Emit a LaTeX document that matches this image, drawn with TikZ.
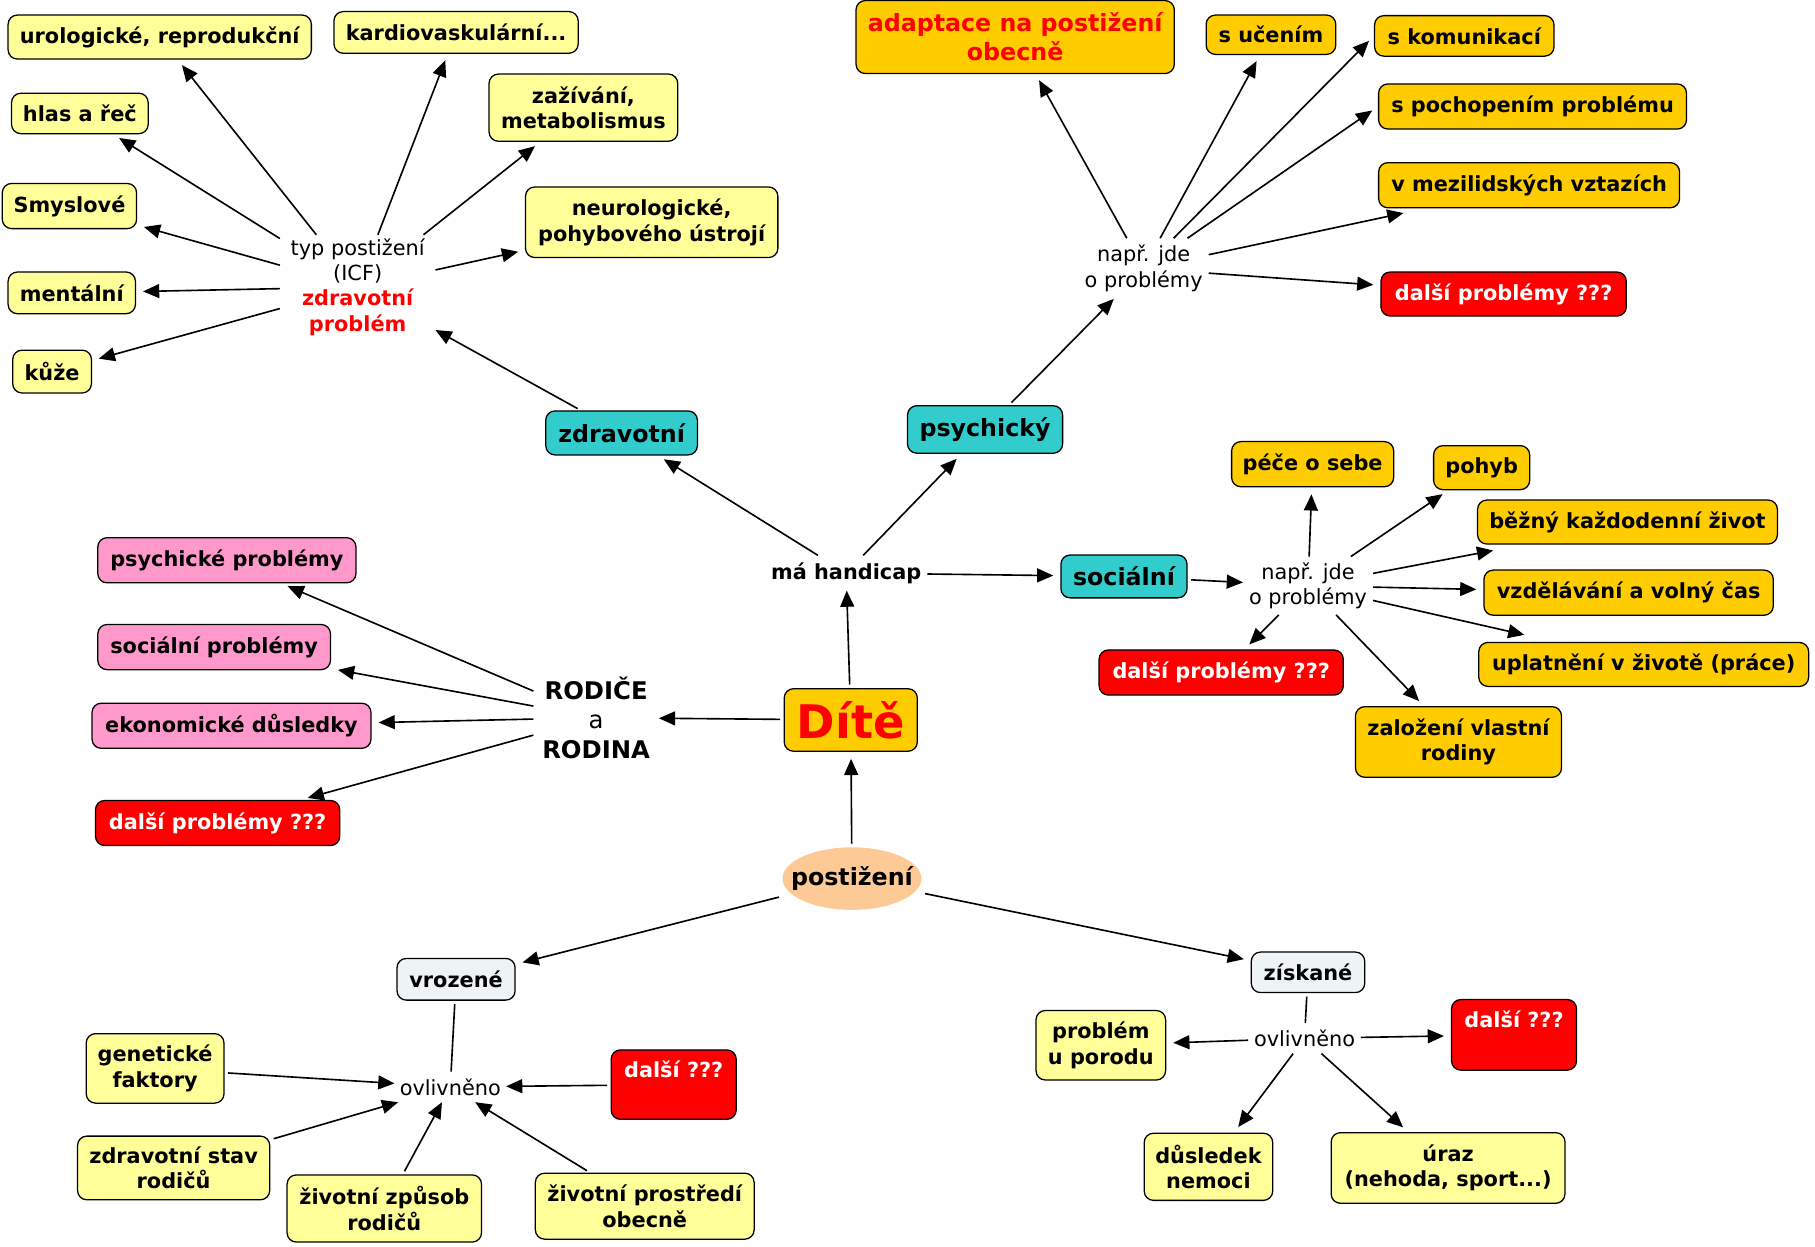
\documentclass[tikz,border=0pt]{standalone}
\usepackage{fontspec}
\setmainfont{DejaVu Sans}
\usetikzlibrary{arrows.meta,shapes.geometric}
\definecolor{cly}{RGB}{255,255,153}
\definecolor{cor}{RGB}{255,204,0}
\definecolor{cteal}{RGB}{51,204,204}
\definecolor{cpink}{RGB}{255,153,204}
\definecolor{cred}{RGB}{255,0,0}
\definecolor{cgr}{RGB}{238,244,246}
\definecolor{cpeach}{RGB}{253,202,150}
\begin{document}
\begin{tikzpicture}[x=1pt,y=-1pt,
  box/.style={draw=black, line width=1.1pt, rounded corners=8pt, inner sep=0pt, align=center,
    font=\fontsize{18}{22}\selectfont\bfseries},
  ly/.style={box, fill=cly},
  og/.style={box, fill=cor},
  tl/.style={box, fill=cteal, font=\fontsize{20.5}{24}\selectfont\bfseries},
  pk/.style={box, fill=cpink},
  rd/.style={box, fill=cred, text=white},
  gr/.style={box, fill=cgr},
  link/.style={inner sep=0pt, align=center, font=\fontsize{18}{22}\selectfont},
  tip/.style={-{Triangle[length=14pt,width=12pt]}, line width=1.4pt},
  cl/.style={tip, shorten <=3pt, shorten >=0pt},
  lc/.style={tip, shorten <=0pt, shorten >=6pt},
  lc0/.style={tip, shorten <=0pt, shorten >=0pt},
  cc/.style={tip, shorten <=3pt, shorten >=6pt},
  pl/.style={line width=1.4pt, shorten <=3pt}
]
\useasboundingbox (0,0) rectangle (1568,1077);

% ---- zdravotni branch
\node[ly, minimum width=262pt, minimum height=38pt] (urol) at (138,32) {urologické, reprodukční};
\node[ly, minimum width=211pt, minimum height=36pt] (kard) at (394,28) {kardiovaskulární...};
\node[ly, minimum width=118pt, minimum height=35pt] (hlas) at (69,98) {hlas a řeč};
\node[ly, minimum width=163pt, minimum height=58pt] (zaz) at (504,93) {zažívání,\\metabolismus};
\node[ly, minimum width=116pt, minimum height=39pt] (smy) at (60,178) {Smyslové};
\node[ly, minimum width=218pt, minimum height=61pt] (neu) at (563,192) {neurologické,\\pohybového ústrojí};
\node[ly, minimum width=110pt, minimum height=36pt] (men) at (62,253) {mentální};
\node[ly, minimum width=68pt, minimum height=37pt] (kuz) at (45,321) {kůže};
\node[link, minimum width=134pt, minimum height=90pt] (typ) at (309,248)
  {typ postižení\\(ICF)\\\textcolor{cred}{\bfseries zdravotní}\\\textcolor{cred}{\bfseries problém}};

\node[tl, minimum width=131pt, minimum height=38pt] (zdr) at (537,374) {zdravotní};
\node[tl, minimum width=134pt, minimum height=41pt] (psy) at (851,371) {psychický};
\node[tl, minimum width=109pt, minimum height=37pt] (soc) at (971,498) {sociální};

\node[link, font=\fontsize{18}{22}\selectfont\bfseries, minimum width=140pt, minimum height=30pt] (mah) at (731,495) {má handicap};
\node[og, minimum width=115pt, minimum height=54pt, text=cred, font=\fontsize{40}{44}\selectfont\bfseries] (dite) at (735,622) {Dítě};
\node[link, font=\fontsize{21}{25.5}\selectfont\bfseries, minimum width=108pt, minimum height=76pt] (rod) at (515,620) {RODIČE\\{\mdseries a}\\RODINA};

% ---- rodina
\node[pk, minimum width=223pt, minimum height=39pt] (pp) at (196,484) {psychické problémy};
\node[pk, minimum width=201pt, minimum height=39pt] (sp) at (185,559) {sociální problémy};
\node[pk, minimum width=241pt, minimum height=39pt] (ed) at (200,627) {ekonomické důsledky};
\node[rd, minimum width=211pt, minimum height=39pt] (dp1) at (188,711) {další problémy ???};

% ---- postizeni
\fill[cpeach] (736,759) ellipse [x radius=60pt, y radius=27pt];
\node[inner sep=0pt, minimum width=120pt, minimum height=54pt,
  font=\fontsize{20.5}{24}\selectfont\bfseries] (post) at (736,759) {postižení};
\node[gr, minimum width=102pt, minimum height=36pt] (vro) at (394,846) {vrozené};
\node[gr, minimum width=98pt, minimum height=35pt] (zis) at (1130,840) {získané};

\node[link, minimum width=96pt, minimum height=26pt] (ov1) at (389,939) {ovlivněno};
\node[ly, minimum width=119pt, minimum height=60pt] (gen) at (134,923) {genetické\\faktory};
\node[rd, minimum width=108pt, minimum height=60pt, text height=24pt, text depth=36pt] (dal1) at (582,937) {další ???};
\node[ly, minimum width=166pt, minimum height=55pt] (zsr) at (150,1009) {zdravotní stav\\rodičů};
\node[ly, minimum width=168pt, minimum height=58pt] (zzr) at (332,1044) {životní způsob\\rodičů};
\node[ly, minimum width=189pt, minimum height=57pt] (zpo) at (557,1042) {životní prostředí\\obecně};

\node[link, minimum width=97pt, minimum height=26pt] (ov2) at (1127,897) {ovlivněno};
\node[ly, minimum width=112pt, minimum height=60pt] (pup) at (951,903) {problém\\u porodu};
\node[rd, minimum width=108pt, minimum height=61pt, text height=24pt, text depth=37pt] (dal2) at (1308,894) {další ???};
\node[ly, minimum width=111pt, minimum height=58pt] (dn) at (1044,1008) {důsledek\\nemoci};
\node[ly, minimum width=202pt, minimum height=61pt] (ura) at (1251,1009) {úraz\\(nehoda, sport...)};

% ---- psychicky
\node[link, minimum width=112pt, minimum height=52pt] (np1) at (988,232) {např. jde\\o problémy};
\node[og, minimum width=275pt, minimum height=63pt, text=cred, font=\fontsize{20.5}{25}\selectfont\bfseries] (ada) at (877,32) {adaptace na postižení\\obecně};
\node[og, minimum width=112pt, minimum height=34pt] (suc) at (1098,30) {s učením};
\node[og, minimum width=155pt, minimum height=35pt] (sko) at (1265,31) {s komunikací};
\node[og, minimum width=266pt, minimum height=39pt] (spo) at (1324,92) {s pochopením problému};
\node[og, minimum width=260pt, minimum height=39pt] (vme) at (1321,160) {v mezilidských vztazích};
\node[rd, minimum width=212pt, minimum height=38pt] (dp2) at (1299,254) {další problémy ???};

% ---- socialni
\node[link, minimum width=112pt, minimum height=50pt] (np2) at (1130,506) {např. jde\\o problémy};
\node[og, minimum width=140pt, minimum height=39pt] (pec) at (1134,401) {péče o sebe};
\node[og, minimum width=83pt, minimum height=38pt] (poh) at (1280,404) {pohyb};
\node[og, minimum width=259pt, minimum height=38pt] (bez) at (1406,451) {běžný každodenní život};
\node[og, minimum width=250pt, minimum height=39pt] (vzd) at (1407,512) {vzdělávání a volný čas};
\node[og, minimum width=285pt, minimum height=38pt] (upl) at (1420,574) {uplatnění v životě (práce)};
\node[rd, minimum width=211pt, minimum height=39pt] (dp3) at (1055,581) {další problémy ???};
\node[og, minimum width=178pt, minimum height=61pt] (zal) at (1260,641) {založení vlastní\\rodiny};

% ---- connectors
\foreach \t in {urol,kard,hlas,zaz,smy,neu,men,kuz} \draw[lc] (typ) -- (\t);
\draw[cl] (zdr) -- (typ);
\draw[cl] (dite) -- (mah);
\draw[lc] (mah) -- (zdr);
\draw[lc] (mah) -- (psy);
\draw[lc] (mah) -- (soc);
\draw[cl] (dite) -- (rod);
\foreach \t in {pp,sp,ed,dp1} \draw[lc] (rod) -- (\t);
\draw[cc] (post) -- (dite);
\draw[cc] (post) -- (vro);
\draw[cc] (post) -- (zis);
\draw[pl] (vro) -- (ov1);
\foreach \s in {gen,dal1,zsr,zzr,zpo} \draw[cl] (\s) -- (ov1);
\draw[pl] (zis) -- (ov2);
\foreach \t in {pup,dal2,dn,ura} \draw[lc] (ov2) -- (\t);
\draw[cl] (psy) -- (np1);
\foreach \t in {ada,suc,dp2} \draw[lc] (np1) -- (\t);
\draw[lc] (np1) -- (sko.west);
\draw[lc] (np1) -- (spo.west);
\draw[lc0] (np1) -- ([xshift=22pt,yshift=-4pt]vme.south west);
\draw[cl] (soc) -- (np2);
\foreach \t in {pec,poh,vzd,dp3,zal} \draw[lc] (np2) -- (\t);
\draw[lc0] (np2) -- ([xshift=14pt,yshift=-5pt]bez.south west);
\draw[lc0] (np2) -- ([xshift=40pt,yshift=6pt]upl.north west);
\end{tikzpicture}
\end{document}
